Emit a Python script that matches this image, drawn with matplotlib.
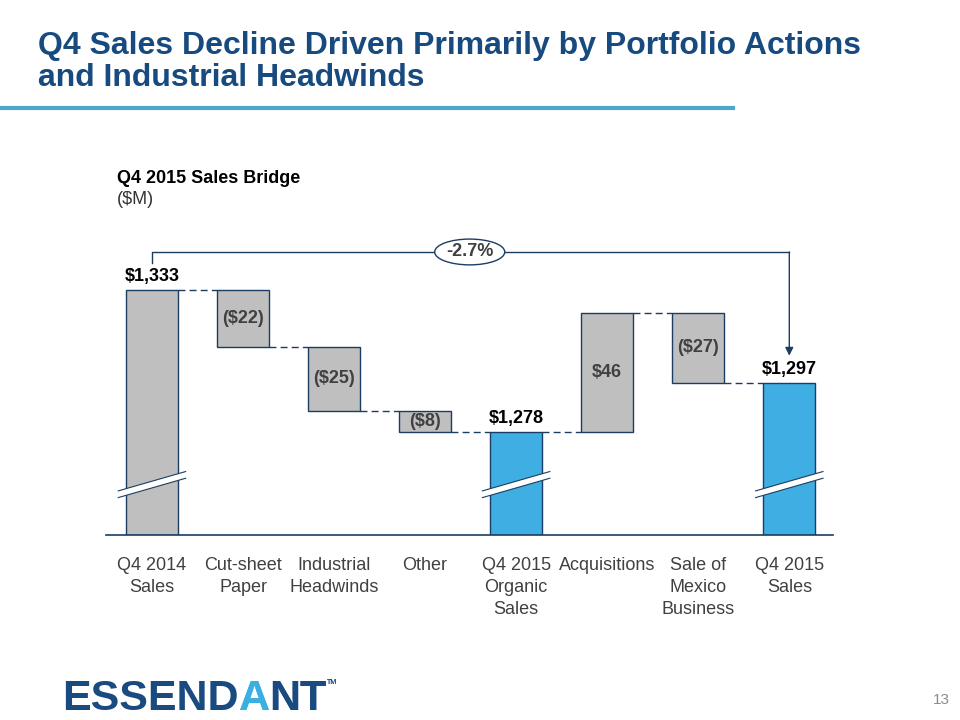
import matplotlib
matplotlib.use("Agg")
import matplotlib.pyplot as plt
from matplotlib.patches import Ellipse, Polygon

plt.rcParams['font.family'] = ['Liberation Sans', 'DejaVu Sans']

# data
categories = ['Q4 2014\nSales', 'Cut-sheet\nPaper', 'Industrial\nHeadwinds', 'Other',
              'Q4 2015\nOrganic\nSales', 'Acquisitions', 'Sale of\nMexico\nBusiness',
              'Q4 2015\nSales']
values = [1333, -22, -25, -8, 1278, 46, -27, 1297]
is_total = [True, False, False, False, True, False, False, True]
value_labels = ['$1,333', '($22)', '($25)', '($8)', '$1,278', '$46', '($27)', '$1,297']
change_label = '-2.7%'

BASE = 1238  # broken axis floor
NAVY = '#1B3D63'
GRAY = '#BFBFBF'
BLUE = '#3FAFE3'
TITLE = '#174A7E'

fig = plt.figure(figsize=(9.6, 7.2), dpi=100)
ax = fig.add_axes([106 / 960, 1 - 535 / 720, 727 / 960, 335 / 720])
ax.set_xlim(-0.505, 7.48)
ax.set_ylim(BASE, BASE + 335 / 2.58)

w = 0.57
running = 0
levels = []
for i, v in enumerate(values):
    if is_total[i]:
        bottom, top = BASE, v
        running = v
        color = BLUE if i > 0 else GRAY
    else:
        start = running
        running = running + v
        bottom, top = min(start, running), max(start, running)
        color = GRAY
    levels.append(running)
    ax.bar(i, top - bottom, bottom=bottom, width=w, color=color,
           edgecolor=NAVY, linewidth=1.0, zorder=2)
    if is_total[i]:
        ax.text(i, top + 1.8, value_labels[i], ha='center', va='bottom',
                fontsize=13, fontweight='bold', color='black')
        # break marks
        y0 = 1252.5
        d = 7.5
        gap = 2.6
        xs = [i - 0.37, i + 0.37]
        ax.add_patch(Polygon([(xs[0], y0), (xs[1], y0 + d), (xs[1], y0 + d + gap),
                              (xs[0], y0 + gap)], closed=True, facecolor='white',
                             edgecolor='none', zorder=3))
        ax.plot(xs, [y0, y0 + d], color=NAVY, lw=0.8, zorder=4)
        ax.plot(xs, [y0 + gap, y0 + d + gap], color=NAVY, lw=0.8, zorder=4)
    else:
        ax.text(i, (top + bottom) / 2, value_labels[i], ha='center', va='center',
                fontsize=13, fontweight='bold', color='#404040', zorder=3)

# dashed connectors
for i in range(len(values) - 1):
    ax.plot([i + w / 2, i + 1 - w / 2], [levels[i], levels[i]], color=NAVY,
            lw=1.0, ls=(0, (5, 3)), zorder=1)

# bracket with arrow
yb = 1347.7
ax.plot([0, 0, 7], [1343.5, yb, yb], color=NAVY, lw=1.0, zorder=1)
ax.annotate('', xy=(7, 1307.5), xytext=(7, yb),
            arrowprops=dict(arrowstyle='-|>', color=NAVY, lw=1.0,
                            mutation_scale=12, shrinkA=0, shrinkB=0))
ax.add_patch(Ellipse((3.49, yb), 0.77, 10, facecolor='white', edgecolor=NAVY,
                     lw=1.0, zorder=3))
ax.text(3.49, yb, change_label, ha='center', va='center', fontsize=13,
        fontweight='bold', color='#404040', zorder=4)

for s in ['top', 'right', 'left']:
    ax.spines[s].set_visible(False)
ax.spines['bottom'].set_color(NAVY)
ax.spines['bottom'].set_linewidth(1.2)
ax.set_yticks([])
ax.set_xticks(range(len(categories)))
ax.set_xticklabels(categories, fontsize=13, color='#404040', linespacing=1.38)
ax.tick_params(axis='x', length=0, pad=16)

# slide title and decorations
fig.text(38 / 960, 1 - 31 / 720,
         'Q4 Sales Decline Driven Primarily by Portfolio Actions\nand Industrial Headwinds',
         ha='left', va='top', fontsize=23, fontweight='bold', color=TITLE,
         linespacing=1.08)
fig.add_artist(plt.Line2D([0, 733 / 960], [1 - 108 / 720] * 2, color='#4BA7CF', lw=3))
fig.text(117 / 960, 1 - 170 / 720, 'Q4 2015 Sales Bridge', ha='left', va='top',
         fontsize=13, fontweight='bold', color='black')
fig.text(117 / 960, 1 - 191 / 720, '($M)', ha='left', va='top', fontsize=13,
         color='#333333')

# logo
t1 = fig.text(62 / 960, 1 - 710 / 720, 'ESSEND', ha='left', va='baseline',
              fontsize=31, fontweight='bold', color='#1A4B80')
a = plt.annotate('A', xy=(1, 0), xycoords=t1, va='bottom', ha='left',
                 fontsize=31, fontweight='bold', color='#3AB0E2')
fig.add_artist(a)
b = plt.annotate('NT', xy=(1, 0), xycoords=a, va='bottom', ha='left',
                 fontsize=31, fontweight='bold', color='#1A4B80')
fig.add_artist(b)
c = plt.annotate('TM', xy=(1, 1), xycoords=b, va='top', ha='left',
                 fontsize=5, color='#1A4B80')
fig.add_artist(c)
fig.text(950 / 960, 1 - 700 / 720, '13', ha='right', va='center', fontsize=11,
         color='#8C8C8C')

fig.savefig('out.png', dpi=100)
